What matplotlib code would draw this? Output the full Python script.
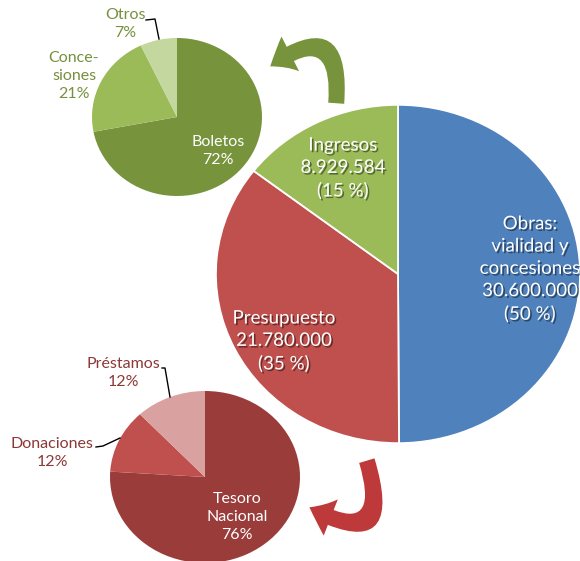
import matplotlib
matplotlib.use('Agg')
import matplotlib.pyplot as plt
import matplotlib.patheffects as pe
from matplotlib.patches import FancyArrowPatch

plt.rcParams['font.family'] = ['Lato', 'DejaVu Sans']

# main pie: sources of funds
main_names = ['Obras:\nvialidad y\nconcesiones', 'Presupuesto', 'Ingresos']
main_values = [30600000, 21780000, 8929584]
main_pcts = [50, 35, 15]
main_colors = ['#4F81BD', '#C0504D', '#9BBB59']

# breakdown of "Ingresos"
ing_names = ['Boletos', 'Conce-\nsiones', 'Otros']
ing_pcts = [72, 21, 7]
ing_colors = ['#77933C', '#9BBB59', '#C4D79E']

# breakdown of "Presupuesto"
pre_names = ['Tesoro\nNacional', 'Donaciones', 'Préstamos']
pre_pcts = [76, 12, 12]
pre_colors = ['#993C3A', '#C0504D', '#D9A2A1']

W, H = 580, 561
fig = plt.figure(figsize=(W / 100, H / 100), dpi=100)


def pie_axes(cx, cy, rx, ry):
    # axes box in pixel coords (y from top) -> elliptical pie
    ax = fig.add_axes([(cx - rx) / W, (H - cy - ry) / H, 2 * rx / W, 2 * ry / H])
    return ax


def fmt(v):
    return f'{v:,}'.replace(',', '.')


ax_main = pie_axes(398, 274, 183, 170)
ax_main.pie(main_values, colors=main_colors, startangle=90, counterclock=False,
            radius=1, wedgeprops=dict(edgecolor='white', linewidth=1.3))
ax_main.set_aspect('auto')
ax_main.set_xlim(-1.005, 1.005)
ax_main.set_ylim(-1.005, 1.005)

ax_ing = pie_axes(177, 117, 85, 79)
ax_ing.pie(ing_pcts, colors=ing_colors, startangle=90, counterclock=False,
           radius=1, wedgeprops=dict(edgecolor='none'))
ax_ing.set_aspect('auto')
ax_ing.set_xlim(-1, 1)
ax_ing.set_ylim(-1, 1)

ax_pre = pie_axes(205, 477, 95, 86)
ax_pre.pie(pre_pcts, colors=pre_colors, startangle=90, counterclock=False,
           radius=1, wedgeprops=dict(edgecolor='none'))
ax_pre.set_aspect('auto')
ax_pre.set_xlim(-1, 1)
ax_pre.set_ylim(-1, 1)

# overlay for labels and arrows, pixel coordinates
ov = fig.add_axes([0, 0, 1, 1])
ov.set_xlim(0, W)
ov.set_ylim(H, 0)
ov.axis('off')
ov.patch.set_visible(False)

shadow = [pe.SimplePatchShadow(offset=(1.2, -1.2), shadow_rgbFace='black', alpha=0.45), pe.Normal()]

main_pos = [(530, 269), (284, 341), (343, 168)]
for name, val, pct, (x, y) in zip(main_names, main_values, main_pcts, main_pos):
    ov.text(x, y, f'{name}\n{fmt(val)}\n({pct} %)', color='white', fontsize=13.5,
            ha='center', va='center', linespacing=1.38, path_effects=shadow)

# green pie labels
small = dict(fontsize=11.5, ha='center', va='center', linespacing=1.38)
ov.text(218, 151, f'{ing_names[0]}\n{ing_pcts[0]}%', color='white', **small)
ov.text(74, 76, f'{ing_names[1]}\n{ing_pcts[1]}%', color='#76903F', **small)
ov.text(125, 24, f'{ing_names[2]}\n{ing_pcts[2]}%', color='#76903F', **small)
ov.plot([146, 155, 159], [20, 19, 39], color='black', lw=1)

# red pie labels
ov.text(237, 517, f'{pre_names[0]}\n{pre_pcts[0]}%', color='white', **small)
ov.text(52, 453, f'{pre_names[1]}\n{pre_pcts[1]}%', color='#8C3836', **small)
ov.text(123, 373, f'{pre_names[2]}\n{pre_pcts[2]}%', color='#8C3836', **small)
ov.plot([96, 103, 120], [447, 446, 438], color='black', lw=1)
ov.plot([162, 165, 170], [368, 368, 397], color='black', lw=1)

# curved arrows
green_arrow = FancyArrowPatch((336, 106), (268, 68), connectionstyle='arc3,rad=1.1',
                              arrowstyle='simple,head_length=1.7,head_width=2.8,tail_width=1.15',
                              mutation_scale=10, color='#77933C', lw=0)
ov.add_patch(green_arrow)
red_arrow = FancyArrowPatch((366, 458), (307, 506), connectionstyle='arc3,rad=-1.25',
                            arrowstyle='simple,head_length=1.7,head_width=2.8,tail_width=1.15',
                            mutation_scale=10, color='#BE3A3A', lw=0)
ov.add_patch(red_arrow)

fig.savefig('out.png', dpi=100)
